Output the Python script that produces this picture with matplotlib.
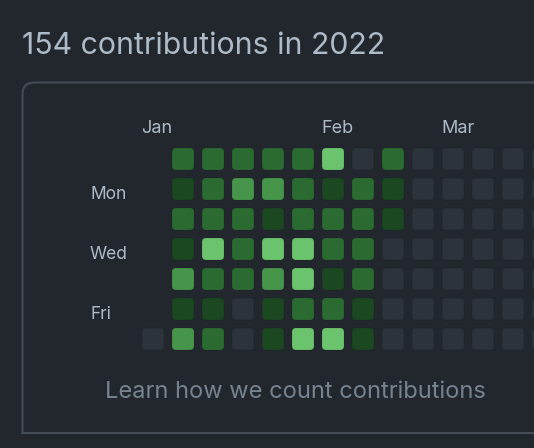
import numpy as np
import matplotlib.pyplot as plt
from matplotlib.patches import FancyBboxPatch, PathPatch
from matplotlib.path import Path

plt.rcParams['font.family'] = ['Inter', 'DejaVu Sans']

title = '154 contributions in 2022'
footer = 'Learn how we count contributions'
months = ['Jan', 'Feb', 'Mar']
month_weeks = [0, 6, 10]          # week column where each month label starts
day_labels = ['Mon', 'Wed', 'Fri']
day_rows = [1, 3, 5]

# contribution level per (day of week, week); -1 = no cell (before Jan 1)
levels = np.array([
    [-1, 2, 2, 2, 2, 2, 4, 0, 2, 0, 0, 0, 0, 0],   # Sun
    [-1, 1, 2, 3, 3, 2, 1, 2, 1, 0, 0, 0, 0, 0],   # Mon
    [-1, 2, 2, 2, 1, 2, 2, 2, 1, 0, 0, 0, 0, 0],   # Tue
    [-1, 1, 4, 2, 4, 4, 2, 2, 0, 0, 0, 0, 0, 0],   # Wed
    [-1, 3, 2, 2, 3, 4, 1, 2, 0, 0, 0, 0, 0, 0],   # Thu
    [-1, 1, 1, 0, 1, 2, 2, 1, 0, 0, 0, 0, 0, 0],   # Fri
    [0, 3, 2, 0, 1, 4, 4, 1, 0, 0, 0, 0, 0, 0],    # Sat
])
palette = ['#2d333b', '#1b4721', '#2b6a30', '#46954a', '#6bc46d']

BG = '#22272e'
x0, y0 = 142, 148   # top-left of first cell
pitch, size = 30, 22

fig = plt.figure(figsize=(5.34, 4.48), dpi=100, facecolor=BG)
ax = fig.add_axes([0, 0, 1, 1])
ax.set_xlim(0, 534)
ax.set_ylim(448, 0)
ax.axis('off')
ax.set_facecolor(BG)

# box outline: rounded top-left, square bottom-left, open to the right
r = 12
verts = [(600, 82.5), (22.5 + r, 82.5), (22.5, 82.5), (22.5, 82.5 + r),
         (22.5, 433), (600, 433)]
codes = [Path.MOVETO, Path.LINETO, Path.CURVE3, Path.CURVE3, Path.LINETO, Path.LINETO]
ax.add_patch(PathPatch(Path(verts, codes), fill=False, edgecolor='#444c56', lw=1.5))

ax.text(22, 54, title, color='#adbac7', fontsize=21.8, va='baseline', ha='left')

for d in range(levels.shape[0]):
    for w in range(levels.shape[1]):
        lv = levels[d, w]
        if lv < 0:
            continue
        ax.add_patch(FancyBboxPatch((x0 + w * pitch + 2, y0 + d * pitch + 2), size - 4, size - 4,
                                    boxstyle='round,pad=2,rounding_size=4',
                                    facecolor=palette[lv], edgecolor=(0, 0, 0, 0.08), lw=1))

for m, w in zip(months, month_weeks):
    ax.text(x0 + w * pitch - 1, 133, m, color='#adbac7', fontsize=13, va='baseline', ha='left')

for lab, d in zip(day_labels, day_rows):
    ax.text(90, y0 + d * pitch + size / 2 + 10, lab, color='#adbac7', fontsize=12.5,
            va='baseline', ha='left')

ax.text(295, 398, footer, color='#768390', fontsize=17, va='baseline', ha='center')

fig.savefig('out.png', dpi=100, facecolor=BG)
